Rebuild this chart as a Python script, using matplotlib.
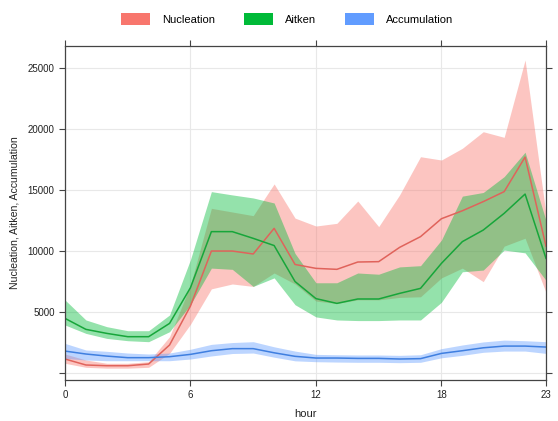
import matplotlib
matplotlib.use("Agg")
import matplotlib.pyplot as plt
from matplotlib.patches import Patch
import numpy as np

hours = list(range(24))

nuc_mean = [1150, 660, 600, 600, 740, 2300, 5500, 10000, 10000, 9760, 11860, 8900,
            8580, 8500, 9100, 9130, 10300, 11180, 12650, 13300, 14050, 14870, 17700, 10400]
nuc_low = [800, 470, 400, 400, 470, 1610, 4000, 6900, 7300, 7100, 8200, 7300,
           5900, 5700, 6000, 6000, 6200, 6250, 7800, 8600, 7490, 10400, 11050, 6600]
nuc_high = [1560, 1070, 800, 800, 930, 2980, 7200, 13500, 13200, 12900, 15500, 12700,
            12050, 12270, 14100, 12000, 14600, 17730, 17460, 18420, 19780, 19320, 25660, 13000]

ait_mean = [4480, 3580, 3250, 2980, 2980, 4070, 7000, 11590, 11590, 11040, 10450, 7500,
            6100, 5710, 6070, 6070, 6530, 6940, 8990, 10770, 11720, 13090, 14670, 9400]
ait_low = [3940, 3250, 2840, 2650, 2570, 3390, 5600, 8600, 8500, 7100, 7800, 5600,
           4600, 4350, 4300, 4300, 4350, 4350, 5800, 8300, 8440, 10080, 9850, 7600]
ait_high = [5990, 4350, 3800, 3470, 3470, 4760, 9300, 14870, 14600, 14350, 13940, 9800,
            7400, 7400, 8200, 8100, 8700, 8800, 10900, 14500, 14800, 16100, 18100, 12500]

acc_mean = [1800, 1560, 1390, 1260, 1260, 1340, 1530, 1830, 2000, 2000, 1660, 1370,
            1230, 1230, 1200, 1200, 1150, 1180, 1610, 1830, 2070, 2210, 2210, 2130]
acc_low = [1200, 1070, 1010, 1010, 1010, 1010, 1150, 1400, 1600, 1640, 1300, 1000,
           930, 900, 880, 880, 850, 880, 1250, 1450, 1700, 1800, 1800, 1610]
acc_high = [2430, 1890, 1780, 1640, 1560, 1640, 1950, 2350, 2500, 2570, 2150, 1800,
            1530, 1500, 1480, 1480, 1450, 1500, 2000, 2300, 2550, 2700, 2650, 2570]

series_names = ["Nucleation", "Aitken", "Accumulation"]
fill_colors = ["#F8766D", "#00BA38", "#619CFF"]
line_colors = ["#E0635B", "#17A63A", "#3F7FE0"]

xticks = [0, 6, 12, 18, 23]
yticks = [0, 5000, 10000, 15000, 20000, 25000]
ytick_labels = ["", "5000", "10000", "15000", "20000", "25000"]

plt.rcParams['font.family'] = ['Liberation Sans', 'DejaVu Sans']

fig = plt.figure(figsize=(5.58, 4.21), dpi=100)
ax = fig.add_axes([65/558, 1-380/421, (546-65)/558, (380-45.7)/421])

data = [(nuc_mean, nuc_low, nuc_high), (ait_mean, ait_low, ait_high), (acc_mean, acc_low, acc_high)]
for (m, lo, hi), fc, lc in zip(data, fill_colors, line_colors):
    ax.fill_between(hours, lo, hi, color=fc, alpha=0.42, linewidth=0)
    ax.plot(hours, m, color=lc, linewidth=1.1)

ax.set_xlim(0, 23)
ax.set_ylim(-570, 26830)
ax.set_xticks(xticks)
ax.set_yticks(yticks)
ax.set_yticklabels(ytick_labels)
ax.grid(True, color="#e8e8e8", linewidth=0.8)
ax.set_axisbelow(True)
ax.tick_params(axis='both', direction='out', length=4, width=0.8, color="#444444",
               labelsize=7, labelcolor="#222222", top=True, right=True,
               labeltop=False, labelright=False)
for s in ax.spines.values():
    s.set_color("#444444")
    s.set_linewidth(0.9)

ax.set_xlabel("hour", fontsize=8, color="#222222", labelpad=6)
ax.set_ylabel("Nucleation, Aitken, Accumulation", fontsize=7.6, color="#222222", labelpad=6)

handles = [Patch(facecolor=c, edgecolor='none') for c in fill_colors]
fig.legend(handles, series_names, loc='center', bbox_to_anchor=(0.515, 0.955), ncol=3,
           frameon=False, fontsize=8, handlelength=2.6, handleheight=1.3,
           columnspacing=2.6, handletextpad=1.1)

fig.savefig("out.png", dpi=100)
